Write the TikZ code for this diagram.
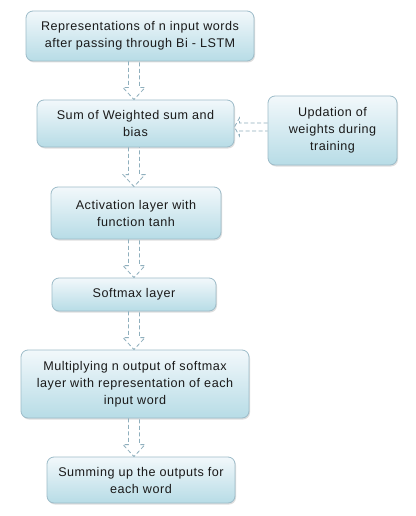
\documentclass[tikz,border=0pt]{standalone}
\usepackage{fontspec}
\setmainfont[LetterSpace=4]{Liberation Sans}
\usetikzlibrary{shadows,calc}
\definecolor{boxtop}{HTML}{F2F8FB}
\definecolor{boxbot}{HTML}{B7DCE6}
\definecolor{boxline}{HTML}{9DBCC9}
\definecolor{arrline}{HTML}{8FAFBD}
\definecolor{txt}{HTML}{1A1A1A}
\tikzset{
  flowbox/.style={rectangle, rounded corners=7pt, draw=boxline, line width=0.8pt,
    top color=boxtop, bottom color=boxbot, align=center, inner sep=0pt,
    text=txt, font=\fontsize{12.6}{17}\selectfont,
    drop shadow={shadow xshift=1pt, shadow yshift=-1.5pt, fill=black!25, opacity=0.5}},
  blockarr/.style={draw=arrline, line width=0.8pt, dash pattern=on 4pt off 2.5pt}
}
\newcommand\varrow[2]{%
  \draw[blockarr] let \p1=#1, \p2=#2 in
    (\x1-5.5pt,\y1) -- (\x1-5.5pt,\y2+12pt) -- (\x1-11pt,\y2+12pt) -- (\x1,\y2)
    -- (\x1+11pt,\y2+12pt) -- (\x1+5.5pt,\y2+12pt) -- (\x1+5.5pt,\y1);}
\newcommand\harrow[2]{%
  \draw[blockarr] let \p1=#1, \p2=#2 in
    (\x1,\y1+4pt) -- (\x2+5pt,\y1+4pt) -- (\x2+5pt,\y1+9pt) -- (\x2,\y1)
    -- (\x2+5pt,\y1-9pt) -- (\x2+5pt,\y1-4pt) -- (\x1,\y1-4pt);}
\begin{document}
\begin{tikzpicture}[x=1pt,y=-1pt]
\fill[white] (0,0) rectangle (415,516);
\useasboundingbox (0,0) rectangle (415,516);
\coordinate (ax) at (134,0);
\node[flowbox, minimum width=228pt, minimum height=50pt] (b1) at (140,36)
  {Representations of n input words\\after passing through Bi - LSTM};
\node[flowbox, minimum width=197pt, minimum height=47pt] (b2) at (135.5,123.5)
  {Sum of Weighted sum and\\bias};
\node[flowbox, minimum width=129pt, minimum height=69pt] (b3) at (332.5,130.5)
  {Updation of\\weights during\\training};
\node[flowbox, minimum width=170pt, minimum height=52pt] (b4) at (136,213)
  {Activation layer with\\function tanh};
\node[flowbox, minimum width=164pt, minimum height=33pt] (b5) at (134,294.5)
  {Softmax layer};
\node[flowbox, minimum width=228pt, minimum height=68pt] (b6) at (135,384)
  {Multiplying n output of softmax\\layer with representation of each\\input word};
\node[flowbox, minimum width=188pt, minimum height=46pt] (b7) at (141,480)
  {Summing up the outputs for\\each word};
\varrow{(b1.south -| ax)}{(b2.north -| ax)}
\varrow{(b2.south -| ax)}{(b4.north -| ax)}
\varrow{(b4.south -| ax)}{(b5.north -| ax)}
\varrow{(b5.south -| ax)}{(b6.north -| ax)}
\varrow{(b6.south -| ax)}{(b7.north -| ax)}
\coordinate (hy) at (0,127);
\harrow{(b3.west |- hy)}{(b2.east |- hy)}
\end{tikzpicture}
\end{document}
